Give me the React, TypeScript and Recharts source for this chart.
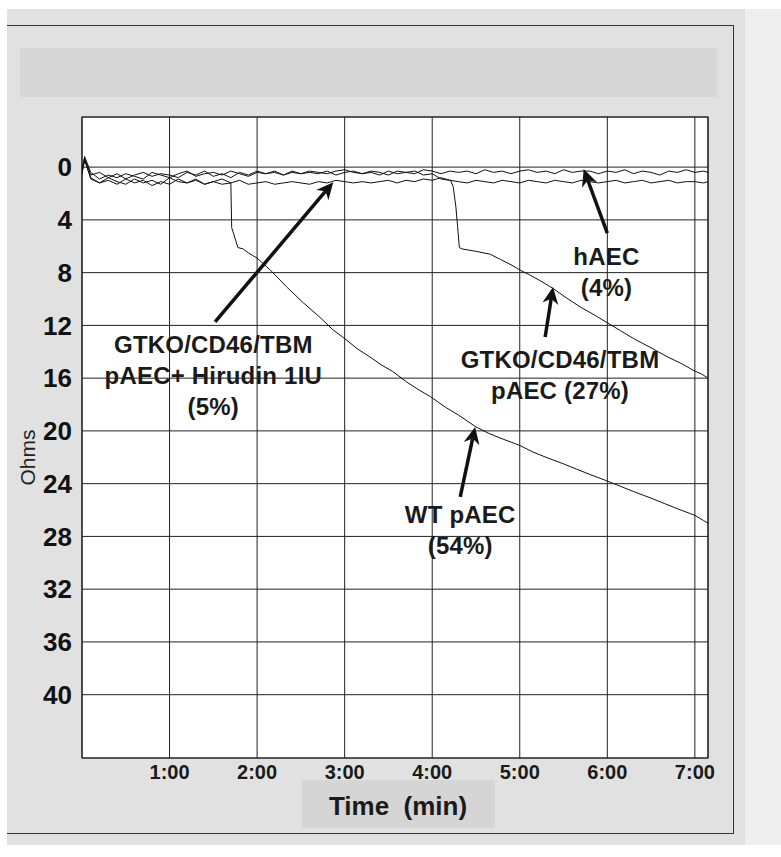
import {
  LineChart,
  Line,
  XAxis,
  YAxis,
  CartesianGrid,
  ReferenceLine,
  ReferenceDot,
  ReferenceArea,
} from "recharts";

const FONT = '"Liberation Sans", Arial, Helvetica, sans-serif';

// time in minutes; values are impedance drop in ohms (axis drawn reversed)
const flatTimes = [
  0, 0.03, 0.1, 0.2, 0.3, 0.4, 0.5, 0.6, 0.7, 0.8, 0.9,
  1.0, 1.1, 1.2, 1.3, 1.4, 1.5, 1.6, 1.7, 1.8, 1.9,
  2.0, 2.1, 2.2, 2.3, 2.4, 2.5, 2.6, 2.7, 2.8, 2.9,
  3.0, 3.1, 3.2, 3.3, 3.4, 3.5, 3.6, 3.7, 3.8, 3.9,
  4.0, 4.1, 4.2, 4.3, 4.4, 4.5, 4.6, 4.7, 4.8, 4.9,
  5.0, 5.1, 5.2, 5.3, 5.4, 5.5, 5.6, 5.7, 5.8, 5.9,
  6.0, 6.1, 6.2, 6.3, 6.4, 6.5, 6.6, 6.7, 6.8, 6.9,
  7.0, 7.1, 7.15,
];

const haecOhms = [
  0.3, -0.8, 0.4, 0.9, 0.6, 0.8, 0.5, 0.7, 0.9, 0.4, 0.6,
  0.8, 0.5, 0.3, 0.7, 0.5, 0.4, 0.6, 0.3, 0.5, 0.7,
  0.4, 0.5, 0.3, 0.6, 0.4, 0.5, 0.3, 0.4, 0.5, 0.3,
  0.2, 0.4, 0.5, 0.3, 0.4, 0.6, 0.3, 0.4, 0.5, 0.2,
  0.3, 0.5, 0.3, 0.4, 0.3, 0.5, 0.2, 0.4, 0.3, 0.5,
  0.3, 0.2, 0.4, 0.3, 0.5, 0.2, 0.4, 0.3, 0.3, 0.5,
  0.3, 0.4, 0.2, 0.5, 0.3, 0.4, 0.6, 0.3, 0.4, 0.2,
  0.4, 0.3, 0.4,
];

const hirudinOhms = [
  0.4, -0.5, 0.8, 1.2, 1.0, 1.3, 0.9, 1.2, 1.0, 1.4, 1.1,
  1.3, 0.9, 1.2, 1.0, 1.3, 1.1, 0.9, 1.2, 1.0, 1.3,
  1.2, 1.1, 1.3, 1.2, 1.1, 1.2, 1.3, 1.1, 1.2, 1.0,
  1.1, 1.2, 1.1, 1.2, 1.1, 1.0, 1.2, 1.0, 1.1, 0.9,
  1.0, 0.8, 1.0, 1.1, 1.2, 1.0, 1.1, 1.2, 1.0, 1.1,
  1.2, 1.0, 1.1, 1.2, 1.0, 1.1, 1.2, 1.0, 1.1, 1.2,
  1.1, 1.0, 1.2, 1.1, 1.0, 1.2, 1.1, 1.0, 1.2, 1.1,
  1.1, 1.2, 1.1,
];

const wtTimes = [
  0, 0.03, 0.1, 0.2, 0.3, 0.4, 0.5, 0.6, 0.7, 0.8, 0.9,
  1.0, 1.1, 1.2, 1.3, 1.4, 1.5, 1.6, 1.7,
  1.71, 1.73, 1.78, 1.84, 1.9, 2.0, 2.15, 2.34, 2.53, 2.72, 2.86,
  3.0, 3.15, 3.29, 3.42, 3.55, 3.71, 3.85, 3.98, 4.15, 4.3,
  4.5, 4.65, 4.8, 5.0, 5.15, 5.3, 5.5, 5.65, 5.8, 6.0,
  6.15, 6.3, 6.5, 6.65, 6.8, 7.0, 7.1, 7.15,
];
const wtOhms = [
  0.5, -0.6, 0.9, 1.2, 0.8, 1.1, 1.3, 0.9, 1.2, 1.0, 1.3,
  0.8, 1.1, 1.2, 0.9, 1.3, 1.1, 1.3, 1.2,
  4.6, 5.0, 6.1, 6.2, 6.5, 6.9, 7.8, 9.1, 10.3, 11.4, 12.3,
  13.0, 13.8, 14.4, 15.0, 15.5, 16.3, 16.9, 17.4, 18.2, 18.8,
  19.7, 20.2, 20.6, 21.1, 21.6, 22.0, 22.5, 22.9, 23.3, 23.8,
  24.2, 24.6, 25.1, 25.5, 25.9, 26.4, 26.8, 27.0,
];

const gtkoTimes = [
  0, 0.03, 0.1, 0.2, 0.3, 0.4, 0.5, 0.6, 0.7, 0.8, 0.9,
  1.0, 1.1, 1.2, 1.3, 1.4, 1.5, 1.6, 1.7, 1.8, 1.9,
  2.0, 2.1, 2.2, 2.3, 2.4, 2.5, 2.6, 2.7, 2.8, 2.9,
  3.0, 3.1, 3.2, 3.3, 3.4, 3.5, 3.6, 3.7, 3.8, 3.9,
  4.0, 4.1, 4.2, 4.21, 4.24, 4.27, 4.29, 4.31, 4.34, 4.51,
  4.66, 4.78, 4.9, 5.0, 5.12, 5.23, 5.38, 5.53, 5.69, 5.85,
  6.0, 6.15, 6.3, 6.5, 6.69, 6.85, 6.98, 7.08, 7.15,
];
const gtkoOhms = [
  0.2, -0.7, 0.6, 0.4, 0.8, 0.5, 0.9, 0.6, 0.4, 0.7, 0.5,
  0.6, 0.8, 0.4, 0.6, 0.3, 0.7, 0.5, 0.8, 0.4, 0.6,
  0.3, 0.5, 0.4, 0.6, 0.3, 0.5, 0.4, 0.5, 0.3, 0.6,
  0.4, 0.3, 0.5, 0.4, 0.6, 0.3, 0.5, 0.4, 0.3, 0.6,
  0.5, 0.9, 1.0, 1.0, 1.5, 3.0, 4.5, 6.1, 6.2, 6.4,
  6.6, 7.0, 7.4, 7.8, 8.2, 8.6, 9.2, 9.9, 10.6, 11.2,
  11.8, 12.4, 13.0, 13.7, 14.4, 14.9, 15.4, 15.7, 16.0,
];

const timeTicks = [1, 2, 3, 4, 5, 6, 7];
const ohmTicks = [0, 4, 8, 12, 16, 20, 24, 28, 32, 36, 40];
const timeDomain = [0, 7.15];
const ohmDomain = [-3.8, 44.8];

// annotation arrows: [tail, head] in (min, ohms)
const arrows = [
  { from: [1.52, 11.74], to: [2.87, 1.14] },
  { from: [6.0, 5.0], to: [5.73, 0.15] },
  { from: [5.29, 12.88], to: [5.38, 9.09] },
  { from: [4.32, 25.0], to: [4.49, 19.7] },
];

const notes = [
  { t: 1.5, v: 14.1, lines: ["GTKO/CD46/TBM", "pAEC+ Hirudin 1IU", "(5%)"] },
  { t: 5.99, v: 7.42, lines: ["hAEC", "(4%)"] },
  { t: 5.46, v: 15.23, lines: ["GTKO/CD46/TBM", "pAEC (27%)"] },
  { t: 4.32, v: 26.97, lines: ["WT pAEC", "(54%)"] },
];

const zip = (ts: number[], vs: number[]) => ts.map((t, i) => ({ t, v: vs[i] }));

const series = [
  { name: "hAEC", data: zip(flatTimes, haecOhms) },
  { name: "Hirudin", data: zip(flatTimes, hirudinOhms) },
  { name: "WT", data: zip(wtTimes, wtOhms) },
  { name: "GTKO", data: zip(gtkoTimes, gtkoOhms) },
];

function Arrow(p: any) {
  const { x1, y1, x2, y2 } = p;
  const a = Math.atan2(y2 - y1, x2 - x1);
  const ux = Math.cos(a);
  const uy = Math.sin(a);
  const len = 17;
  const w = 8;
  const bx = x2 - ux * len;
  const by = y2 - uy * len;
  const nx = x2 - ux * len * 0.7;
  const ny = y2 - uy * len * 0.7;
  const pts = [
    [x2, y2],
    [bx - uy * w, by + ux * w],
    [nx, ny],
    [bx + uy * w, by - ux * w],
  ]
    .map((q) => q.join(","))
    .join(" ");
  return (
    <g>
      <line x1={x1} y1={y1} x2={nx} y2={ny} stroke="#111" strokeWidth={3.5} />
      <polygon points={pts} fill="#111" />
    </g>
  );
}

function Note({ cx, cy, lines }: any) {
  return (
    <text
      x={cx}
      y={cy}
      textAnchor="middle"
      fontFamily={FONT}
      fontWeight="bold"
      fontSize={24}
      letterSpacing={0.2}
      fill="#1a1a1a"
    >
      {lines.map((s: string, i: number) => (
        <tspan key={i} x={cx} dy={i === 0 ? 0 : 31}>
          {s}
        </tspan>
      ))}
    </text>
  );
}

export default function App() {
  return (
    <div
      style={{
        position: "absolute",
        left: 0,
        top: 0,
        width: 781,
        height: 857,
        background: "#fff",
        fontFamily: FONT,
      }}
    >
      <div style={{ position: "absolute", left: 7, top: 9, width: 738, height: 836, background: "#e1e1e1" }} />
      <div style={{ position: "absolute", left: 745, top: 9, width: 36, height: 836, background: "#efefef" }} />
      <div style={{ position: "absolute", left: 7, top: 25, width: 727, height: 0, borderTop: "1.5px solid #333" }} />
      <div style={{ position: "absolute", left: 733, top: 25, width: 0, height: 808, borderLeft: "1.5px solid #333" }} />
      <div style={{ position: "absolute", left: 7, top: 833, width: 727, height: 0, borderTop: "1.5px solid #333" }} />
      <div style={{ position: "absolute", left: 20, top: 48, width: 697, height: 49, background: "#d7d7d7" }} />
      <div style={{ position: "absolute", left: 302, top: 780, width: 193, height: 48, background: "#d5d5d5" }} />

      <div style={{ position: "absolute", left: 0, top: 0 }}>
        <LineChart width={781} height={857} margin={{ top: 117, right: 73, bottom: 69, left: 12 }}>
          <CartesianGrid stroke="#222" strokeWidth={1} fill="#fff" />
          <XAxis
            dataKey="t"
            type="number"
            domain={timeDomain}
            ticks={timeTicks}
            allowDataOverflow
            height={30}
            tickSize={0}
            tickMargin={7}
            axisLine={false}
            tickFormatter={(v: number) => `${v}:00`}
            tick={{ fontSize: 20, fontWeight: "bold", fill: "#1a1a1a", fontFamily: FONT }}
            label={{
              content: (p: any) => {
                const vb = p.viewBox;
                return (
                  <text
                    x={vb.x + vb.width / 2 + 3}
                    y={vb.y + 57}
                    textAnchor="middle"
                    fontFamily={FONT}
                    fontWeight="bold"
                    fontSize={26}
                    fill="#1a1a1a"
                    style={{ whiteSpace: "pre" }}
                  >
                    {"Time  (min)"}
                  </text>
                );
              },
            }}
          />
          <YAxis
            type="number"
            reversed
            domain={ohmDomain}
            ticks={ohmTicks}
            allowDataOverflow
            width={70}
            tickSize={0}
            tickMargin={10}
            axisLine={false}
            tick={{ fontSize: 26, fontWeight: "bold", fill: "#111", fontFamily: FONT }}
            label={{
              content: (p: any) => {
                const vb = p.viewBox;
                const x = vb.x + 15;
                const y = vb.y + vb.height / 2 + 20;
                return (
                  <text
                    x={x}
                    y={y}
                    transform={`rotate(-90 ${x} ${y})`}
                    textAnchor="middle"
                    dominantBaseline="central"
                    fontFamily={FONT}
                    fontSize={21}
                    fill="#222"
                  >
                    Ohms
                  </text>
                );
              },
            }}
          />
          <ReferenceArea
            x1={timeDomain[0]}
            x2={timeDomain[1]}
            y1={ohmDomain[0]}
            y2={ohmDomain[1]}
            fill="none"
            fillOpacity={0}
            stroke="#222"
            strokeWidth={1.2}
          />
          {series.map((s) => (
            <Line
              key={s.name}
              data={s.data}
              dataKey="v"
              name={s.name}
              type="linear"
              stroke="#111"
              strokeWidth={1}
              dot={false}
              activeDot={false}
              isAnimationActive={false}
            />
          ))}
          {arrows.map((a, i) => (
            <ReferenceLine
              key={`a${i}`}
              segment={[
                { x: a.from[0], y: a.from[1] },
                { x: a.to[0], y: a.to[1] },
              ]}
              shape={(p: any) => <Arrow {...p} />}
            />
          ))}
          {notes.map((n, i) => (
            <ReferenceDot
              key={`n${i}`}
              x={n.t}
              y={n.v}
              r={0}
              shape={(p: any) => <Note cx={p.cx} cy={p.cy} lines={n.lines} />}
            />
          ))}
        </LineChart>
      </div>
    </div>
  );
}
